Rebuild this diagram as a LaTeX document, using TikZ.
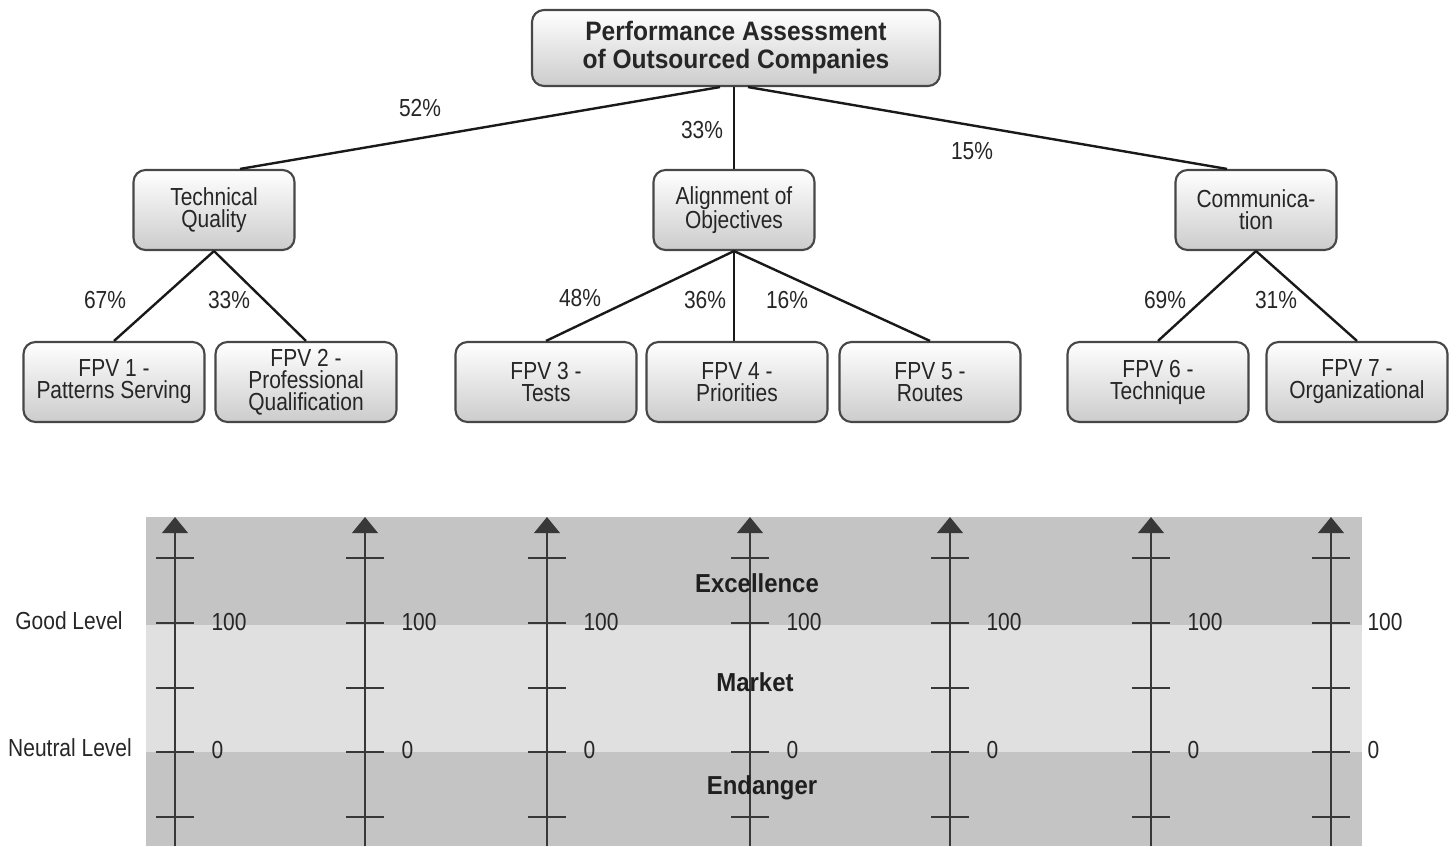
\documentclass[tikz,border=0pt]{standalone}
\usepackage{fontspec}
\setmainfont{Liberation Sans}[FakeStretch=0.85, BoldFeatures={FakeStretch=0.92}]
\usetikzlibrary{arrows.meta}

\tikzset{every picture/.style={line width=0.75pt}}
\tikzset{
  box/.style={draw=black!72, line width=1.6pt, rounded corners=9pt, top color=white, bottom color=black!20,
    align=center, text=black!85, inner sep=0pt, font=\fontsize{18.5}{16.5}\selectfont},
  titlebox/.style={box, minimum width=306pt, minimum height=57pt, font=\fontsize{20}{21}\selectfont\bfseries},
  midbox/.style={box, minimum width=120.75pt, minimum height=60pt},
  leafbox/.style={box, minimum width=135.75pt, minimum height=60pt},
  link/.style={line width=1.8pt, black!90},
  pct/.style={text=black!85, inner sep=0.75pt, font=\fontsize{18.5}{18}\selectfont},
  zonelabel/.style={text=black!88, inner sep=0.75pt, font=\fontsize{19.5}{20}\selectfont\bfseries},
  scalelabel/.style={text=black!85, inner sep=0.75pt, font=\fontsize{18.5}{18}\selectfont},
  axisline/.style={draw=black!78, line width=2.2pt},
}

\begin{document}
\begin{tikzpicture}[x=0.75pt,y=0.75pt,yscale=-1,xscale=1]
\useasboundingbox (0,0) rectangle (1456,846);

%Shape: Rectangles (zones)
\fill [black!23] (146,517) rectangle (1362,625) ;
\fill [black!12] (146,625) rectangle (1362,752) ;
\fill [black!23] (146,752) rectangle (1362,846) ;

%Straight Lines (axes with ticks)
\foreach \ax in {175,365,547,750,950,1151,1331} {
  \draw [axisline, -{Triangle[width=19pt,length=12pt]}] (\ax,846) -- (\ax,517) ;
  \foreach \ty in {558,623,688,752,817} {
    \ifnum\ax=750 \ifnum\ty=688 \else \draw [axisline] (\ax-19,\ty) -- (\ax+19,\ty) ; \fi
    \else \draw [axisline] (\ax-19,\ty) -- (\ax+19,\ty) ; \fi
  }
  \node (hi\ax) [scalelabel, anchor=west] at (\ax+35,622) {100};
  \node (lo\ax) [scalelabel, anchor=west] at (\ax+35,750) {0};
}

% Text Node
\node (excel) [zonelabel] at (757,583) {Excellence};
% Text Node
\node (market) [zonelabel] at (755,682) {Market};
% Text Node
\node (danger) [zonelabel] at (762,788) {Endanger};
% Text Node
\node (good) [scalelabel] at (69,621) {Good Level};
% Text Node
\node (neutral) [scalelabel] at (70,748) {Neutral Level};

%Shape: Rounded Rect
\node (top) [titlebox] at (736,48) {Performance Assessment\\of Outsourced Companies};
\node (tq) [midbox] at (214,210) {Technical\\Quality};
\node (ao) [midbox] at (734,210) {Alignment of\\Objectives};
\node (com) [midbox] at (1256,210) {Communica-\\tion};
\node (fpv1) [leafbox] at (114,382) {FPV 1 -\\Patterns Serving};
\node (fpv2) [leafbox] at (306,382) {FPV 2 -\\Professional\\Qualification};
\node (fpv3) [leafbox] at (546,382) {FPV 3 -\\Tests};
\node (fpv4) [leafbox] at (737,382) {FPV 4 -\\Priorities};
\node (fpv5) [leafbox] at (930,382) {FPV 5 -\\Routes};
\node (fpv6) [leafbox] at (1158,382) {FPV 6 -\\Technique};
\node (fpv7) [leafbox] at (1357,382) {FPV 7 -\\Organizational};

%Straight Lines
\draw [link] ([xshift=-12pt]top.south) -- ([xshift=19.5pt]tq.north) ;
\draw [link] (ao.north |- top.south) -- (ao.north) ;
\draw [link] ([xshift=9pt]top.south) -- ([xshift=-21.75pt]com.north) ;
\draw [link] (tq.south) -- (fpv1.north) ;
\draw [link] (tq.south) -- (fpv2.north) ;
\draw [link] (ao.south) -- (fpv3.north) ;
\draw [link] (ao.south) -- (ao.south |- fpv4.north) ;
\draw [link] (ao.south) -- (fpv5.north) ;
\draw [link] (com.south) -- (fpv6.north) ;
\draw [link] (com.south) -- (fpv7.north) ;

% Text Node
\node (p52) [pct] at (420,108) {52\%};
\node (p33a) [pct] at (702,130) {33\%};
\node (p15) [pct] at (972,151) {15\%};
\node (p67) [pct] at (105,300) {67\%};
\node (p33b) [pct] at (229,300) {33\%};
\node (p48) [pct] at (580,298) {48\%};
\node (p36) [pct] at (705,300) {36\%};
\node (p16) [pct] at (787,300) {16\%};
\node (p69) [pct] at (1165,300) {69\%};
\node (p31) [pct] at (1276,300) {31\%};

\end{tikzpicture}
\end{document}
